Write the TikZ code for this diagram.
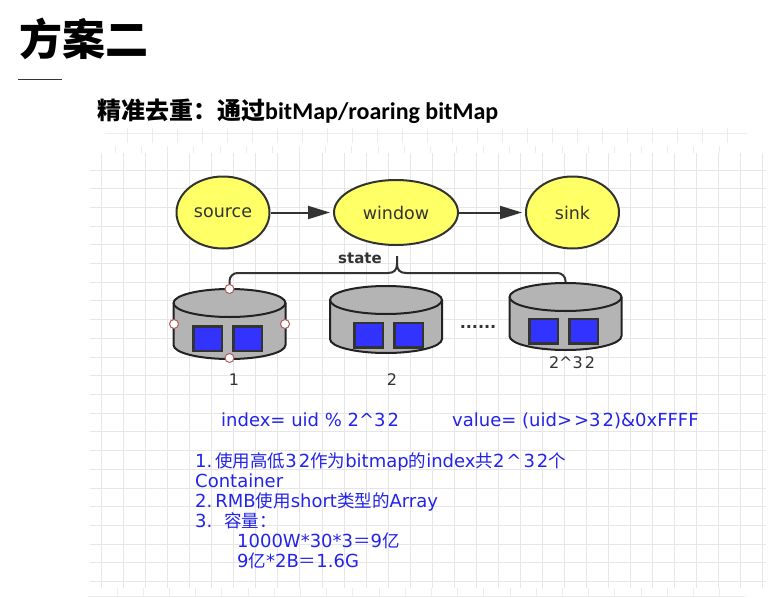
\documentclass[tikz,border=0pt]{standalone}
\usepackage{fontspec}
\usetikzlibrary{shapes.geometric,arrows.meta}
\newfontfamily\cjk{Noto Sans CJK SC}
\newfontfamily\lat{DejaVu Sans}
\newfontfamily\carl{Carlito}
\definecolor{gridc}{RGB}{230,230,230}
\definecolor{tickc}{RGB}{236,236,236}
\definecolor{dk}{RGB}{51,51,51}
\definecolor{yel}{RGB}{255,255,102}
\definecolor{cylg}{RGB}{180,180,180}
\definecolor{sqb}{RGB}{51,51,255}
\definecolor{txb}{RGB}{35,35,235}
\definecolor{hdl}{RGB}{176,90,90}
\newcommand\zh[1]{{\cjk\fontsize{17.5}{20}\selectfont #1}}
\newcommand\dg{\kern2pt}
\newcommand\cylsh[3]{%
  \filldraw[cylbody] ({#1-56},{#2+14}) -- ({#1-56},{#3-14})
    arc[start angle=180,end angle=0,x radius=56,y radius=14]
    -- ({#1+56},{#2+14})
    arc[start angle=0,end angle=-180,x radius=56,y radius=14] -- cycle;
  \draw[cylbody,fill=none] ({#1-56},{#2+14})
    arc[start angle=180,end angle=0,x radius=56,y radius=14];}
\begin{document}
\begin{tikzpicture}[x=1pt,y=-1pt,
  ell/.style={ellipse,draw=dk,line width=2pt,fill=yel,inner sep=0pt,text=dk,
    font=\lat\fontsize{17.5}{20}\selectfont},
  arr/.style={draw=dk,line width=2pt,-{Triangle[length=22pt,width=13pt]},shorten >=3pt},
  brace/.style={draw=dk,line width=2pt},
  cylbody/.style={draw={rgb,255:red,34;green,34;blue,34},line width=2pt,fill=cylg},
  sq/.style={draw=dk,line width=2.5pt,fill=sqb,minimum width=28.5pt,minimum height=24.5pt,inner sep=0pt},
  handle/.style={circle,draw=hdl,fill=white,line width=1pt,minimum size=9pt,inner sep=0pt},
  lbl/.style={text=dk,font=\lat\fontsize{16}{18}\selectfont,inner sep=0pt},
  bl/.style={anchor=base west,inner sep=0pt,text=txb,font=\lat\fontsize{18}{20}\selectfont}
]
\useasboundingbox (0,0) rectangle (781,597);
\fill[white] (0,0) rectangle (781,597);
% grid
\foreach \k in {0,...,30} \draw[gridc,line width=1pt] ({101.7+22.03*\k},153) -- ({101.7+22.03*\k},588);
\foreach \k in {0,...,22} \draw[gridc,line width=1pt] (90,{170+18.71*\k}) -- (766,{170+18.71*\k});
\draw[tickc,line width=1pt] (105,133) -- (747,133);
\foreach \k in {0,...,24} \draw[tickc,line width=1pt] ({127.7+25*\k},128) -- ({127.7+25*\k},143);
\foreach \k in {0,...,23} \draw[tickc,line width=1pt] ({115+26.3*\k},146) -- ({115+26.3*\k},153);
\draw[tickc,line width=1pt] (88,596) -- (745,596);
\foreach \k in {0,...,23} \draw[tickc,line width=1pt] ({117+26.2*\k},588) -- ({117+26.2*\k},596);
% title
\node[anchor=base west,inner sep=0pt,font=\cjk\bfseries\fontsize{43}{47}\selectfont] (title) at (19,55) {方案二};
\draw[dk,line width=1pt] (18,79) -- (62,79);
\node[anchor=base west,inner sep=0pt] (sub) at (97,119) {\cjk\bfseries\fontsize{24}{28}\selectfont 精准去重：通过{\carl\bfseries bitMap/roaring bitMap}};
% flow
\node[ell,minimum width=93pt,minimum height=72pt] (source) at (223,212.5) {source};
\node[ell,minimum width=124pt,minimum height=65pt] (window) at (396,212.5) {window};
\node[ell,minimum width=93pt,minimum height=72pt] (sink) at (572.5,212.5) {sink};
\draw[arr] (source) -- (window);
\draw[arr] (window) -- (sink);
\node[font=\lat\bfseries\fontsize{15}{18}\selectfont,text=dk,inner sep=0pt] (state) at (360,258) {state};
% brace
\coordinate (c1t) at (229.5,289);
\coordinate (c3t) at (565.5,283);
\coordinate (cusp) at (397,256);
\draw[brace,rounded corners=8pt] (c1t) |- (388,273);
\draw[brace] (388,273) .. controls (394,273) and (397,270) .. (397,264) -- (cusp);
\draw[brace] (397,264) .. controls (397,270) and (400,273) .. (406,273);
\draw[brace,rounded corners=8pt] (406,273) -| (c3t);
% cylinders
\cylsh{229.5}{289}{359}
\cylsh{386}{286}{353}
\cylsh{565.5}{283}{350}
\node[sq] (s11) at (207.5,338.5) {};
\node[sq] (s12) at (247.5,338.5) {};
\node[sq] (s21) at (368.5,335) {};
\node[sq] (s22) at (408.5,335) {};
\node[sq] (s31) at (543.5,331) {};
\node[sq] (s32) at (583.5,331) {};
\node[handle] (h1) at (229.5,289) {};
\node[handle] (h2) at (174,324) {};
\node[handle] (h3) at (285,324) {};
\node[handle] (h4) at (229.5,358) {};
\node[lbl] (n1) at (234,380) {1};
\node[lbl] (n2) at (392,380) {2};
\node[lbl] (n3) at (572,363) {2\textasciicircum 3\dg 2};
\node[lbl,font=\lat\bfseries\fontsize{16}{18}\selectfont] (dots) at (478,327) {......};
% blue text
\node[bl] (idx) at (221,426) {index= uid \% 2\textasciicircum 3\dg 2};
\node[bl] (val) at (452,426) {value= (uid>\dg>3\dg 2)\&0xFFFF};
\node[bl] (l1) at (195,467) {1.\,\zh{使用高低}3\dg 2\zh{作为}bitmap\zh{的}index\zh{共}2\dg\textasciicircum\dg 3\dg 2\zh{个}};
\node[bl] (l2) at (195,487) {Container};
\node[bl] (l3) at (195,507) {2.\,RMB\zh{使用}short\zh{类型的}Array};
\node[bl] (l4) at (195,527) {3.\hspace{12pt}\zh{容量：}};
\node[bl] (l5) at (237,547) {1000W*30*3\zh{＝}9\zh{亿}};
\node[bl] (l6) at (237,567) {9\zh{亿}*2B\zh{＝}1.6G};
\end{tikzpicture}
\end{document}
